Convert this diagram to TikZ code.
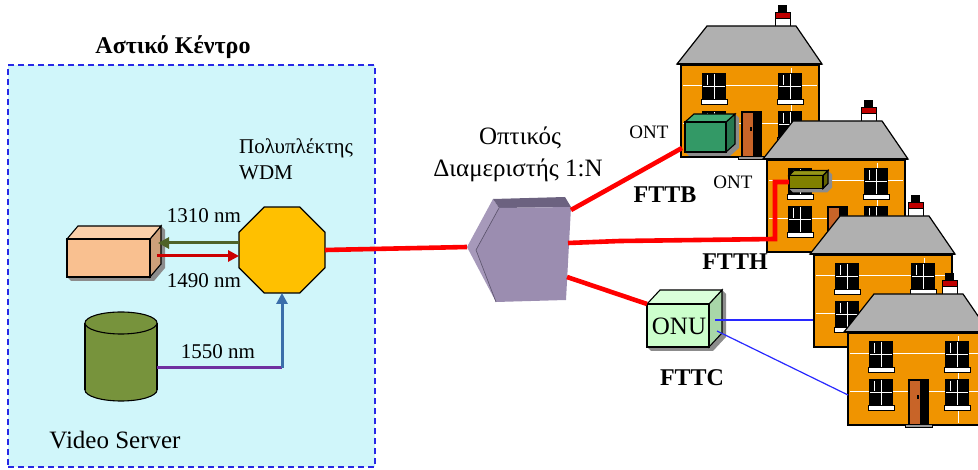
\documentclass[tikz,border=0pt]{standalone}
\usepackage{fontspec}
\setmainfont{Liberation Serif}
\usetikzlibrary{shapes.geometric,arrows.meta}

\definecolor{zonefill}{RGB}{208,246,250}
\definecolor{zoneline}{RGB}{40,40,230}
\definecolor{peach}{RGB}{249,192,144}
\definecolor{peachtop}{RGB}{250,208,170}
\definecolor{peachside}{RGB}{205,160,122}
\definecolor{wdmgold}{RGB}{255,192,0}
\definecolor{cylgreen}{RGB}{119,147,60}
\definecolor{olivearrow}{RGB}{79,98,40}
\definecolor{redarrow}{RGB}{204,0,0}
\definecolor{purpline}{RGB}{112,48,160}
\definecolor{steel}{RGB}{58,110,170}
\definecolor{fiberred}{RGB}{255,0,0}
\definecolor{splfront}{RGB}{155,141,176}
\definecolor{splleft}{RGB}{166,153,186}
\definecolor{spltop}{RGB}{108,98,128}
\definecolor{ontgreen}{RGB}{51,153,102}
\definecolor{ontgreentop}{RGB}{66,172,118}
\definecolor{ontgreenside}{RGB}{40,120,80}
\definecolor{ontolive}{RGB}{128,128,0}
\definecolor{ontolivetop}{RGB}{150,150,24}
\definecolor{ontoliveside}{RGB}{100,100,0}
\definecolor{onufront}{RGB}{204,255,204}
\definecolor{onutop}{RGB}{218,255,218}
\definecolor{onuside}{RGB}{168,214,168}
\definecolor{copper}{RGB}{40,40,255}
\definecolor{brick}{RGB}{240,148,0}
\definecolor{roofgrey}{RGB}{176,176,176}
\definecolor{chimred}{RGB}{192,0,0}
\definecolor{doorbrown}{RGB}{200,100,40}

\tikzset{
  lbl/.style={font=\fontsize{21}{25}\selectfont, inner sep=0pt},
  biglbl/.style={font=\fontsize{25}{29}\selectfont, inner sep=0pt},
  boldlbl/.style={font=\bfseries\fontsize{24}{28}\selectfont, inner sep=0pt},
  frontface/.style={inner sep=0pt, outer sep=0pt},
  cubeshadow/.style={fill=black!45},
  edge/.style={draw=black, line width=1.1pt},
  fiber/.style={draw=fiberred, line width=4.6pt},
  wave/.style={line width=3pt, -{Triangle[length=11pt,width=11pt]}},
  copperline/.style={draw=copper, line width=1.2pt},
}

% shadow, side, top and front of a box whose front face is the node #1
\newcommand\cubefaces[6]{%
  \fill[cubeshadow] ([shift={(4,4)}]#1.south west) -- ([shift={(4,4)}]#1.south east)
     -- ([shift={(#2+4,4-#3)}]#1.south east) -- ([shift={(#2+4,4-#3)}]#1.north east)
     -- ([shift={(#2,-#3)}]#1.north east) -- (#1.south west) -- cycle;
  \filldraw[edge, fill=#6] (#1.south east) -- (#1.north east)
     -- ([shift={(#2,-#3)}]#1.north east) -- ([shift={(#2,-#3)}]#1.south east) -- cycle;
  \filldraw[edge, fill=#5] (#1.north west) -- ([shift={(#2,-#3)}]#1.north west)
     -- ([shift={(#2,-#3)}]#1.north east) -- (#1.north east) -- cycle;
  \filldraw[edge, fill=#4] (#1.south west) rectangle (#1.north east);
}

% a window with white bars and a sill
\newcommand\hwin[2]{%
  \fill[black] (#1,#2) rectangle ++(24,27);
  \draw[white, line width=0.9pt] (#1+12,#2+1) -- ++(0,25) (#1+1,#2+13) -- ++(22,0)
     (#1+5,#2+2) -- ++(0,10);
  \filldraw[fill=white, draw=black, line width=0.5pt] (#1-1,#2+26) rectangle ++(26,5);
}

% a terraced house; the argument is the top left corner of its front wall
\newcommand\house[1]{%
  \begin{scope}[shift={#1}]
    \fill[black] (97,-62) rectangle (106,-54);
    \filldraw[fill=chimred, draw=black, line width=0.8pt] (94,-55) rectangle (109,-49);
    \filldraw[fill=white, draw=black, line width=0.8pt] (94,-49) rectangle (109,-36);
    \filldraw[fill=roofgrey, draw=black, line width=1.2pt]
       (-4,-3) -- (26,-41) -- (115,-41) -- (141,-3) -- cycle;
    \filldraw[fill=brick, draw=black, line width=1.2pt] (0,-2) rectangle (138,90);
    \draw[line width=2.4pt] (-4,-3) -- (141,-3);
    \draw[white, line width=0.8pt] (2,18) -- (136,18) (2,56) -- (136,56) (110,1) -- (110,88);
    \hwin{21}{6}\hwin{97}{6}\hwin{21}{44}\hwin{97}{44}
    \fill[black] (60,44) rectangle (81,90);
    \fill[doorbrown] (62,46) rectangle (72,90);
    \fill[black] (69,60) rectangle (70.5,64);
    \filldraw[fill=black!40, draw=black, line width=0.5pt] (57,89) rectangle (84,92.5);
  \end{scope}
}

\begin{document}
\begin{tikzpicture}[x=1pt, y=-1pt]
\useasboundingbox (0,0) rectangle (978,470);
\clip (0,0) rectangle (978,470);

% central office area
\node[draw=zoneline, fill=zonefill, dashed, dash pattern=on 6pt off 4pt,
      line width=1.3pt, minimum width=367pt, minimum height=402pt, inner sep=0pt]
      (zone) at (191.5,266) {};
\node[boldlbl] (zonetitle) at (173,47) {Αστικό Κέντρο};

% OLT box
\path node[frontface, minimum width=83pt, minimum height=38pt] (olt) at (108.5,258) {};
\cubefaces{olt}{11}{13}{peach}{peachtop}{peachside}

% WDM multiplexer
\node[regular polygon, regular polygon sides=8, minimum size=93pt, inner sep=0pt,
      outer sep=0pt, fill=wdmgold, draw=black, line width=1.2pt] (oct) at (282,250) {};
\node[lbl, anchor=west] (wdmname) at (239,148) {Πολυπλέκτης};
\node[lbl, anchor=west] (wdmtype) at (239,173) {WDM};

\draw[wave, olivearrow] ([yshift=7pt]oct.west) -- ([xshift=8pt,yshift=15pt]olt.east);
\draw[wave, redarrow] ([xshift=7pt,yshift=2pt]olt.east) -- ([yshift=-6pt]oct.west);
\node[lbl] (l1310) at (204,216) {1310 nm};
\node[lbl] (l1490) at (204,281) {1490 nm};

% video server
\coordinate (vs) at (121,356);
\filldraw[edge, fill=cylgreen] (121,390) ellipse [x radius=36, y radius=11];
\fill[cylgreen] (85,323) rectangle (157,390);
\draw[edge] (85,323) -- (85,390) (157,323) -- (157,390);
\filldraw[edge, fill=cylgreen] (121,323) ellipse [x radius=36, y radius=11];
\node[biglbl] (vslabel) at (115,440) {Video Server};

\coordinate (vsport) at (157,368);
\coordinate (vsbend) at (oct.south |- vsport);
\draw[purpline, line width=3pt] (vsport) -- (vsbend);
\draw[wave, steel] (vsbend) -- (oct.south);
\node[lbl] (l1550) at (218,352) {1550 nm};

% optical splitter
\coordinate (spA) at (467,247);
\coordinate (spB) at (493,199);
\coordinate (spC) at (565,197);
\coordinate (spD) at (571,207);
\coordinate (spE) at (499,208);
\coordinate (spF) at (476,250);
\coordinate (spG) at (496,302);
\coordinate (spH) at (566,300);
\fill[splleft] (spA) -- (spB) -- (spE) -- (spF) -- (spG) -- cycle;
\fill[spltop] (spB) -- (spC) -- (spD) -- (spE) -- cycle;
\fill[splfront] (spE) -- (spD) -- (spH) -- (spG) -- (spF) -- cycle;
\draw[spltop!80!black, line width=0.6pt] (spE) -- (spF) -- (spG);
\coordinate (sp1) at (571,210);
\coordinate (sp2) at (568,243);
\coordinate (sp3) at (567,277);
\node[lbl, font=\fontsize{25}{29}\selectfont] (spname) at (520,138) {Οπτικός};
\node[lbl, font=\fontsize{25}{29}\selectfont] (sptype) at (518,170) {Διαμεριστής 1:N};

\draw[fiber] (oct.east) -- (spA);

% buildings
\house{(681,67)}
\house{(767,162)}
\house{(814,257)}
\house{(848,335)}

% ONT units
\path node[frontface, minimum width=41pt, minimum height=30pt] (ont1) at (705.5,137) {};
\cubefaces{ont1}{9}{8}{ontgreen}{ontgreentop}{ontgreenside}
\path node[frontface, minimum width=34pt, minimum height=13pt] (ont2) at (806,182) {};
\cubefaces{ont2}{5}{5}{ontolive}{ontolivetop}{ontoliveside}
\node[lbl, font=\fontsize{19}{22}\selectfont] (ont1label) at (649,132) {ONT};
\node[lbl, font=\fontsize{19}{22}\selectfont] (ont2label) at (733,182) {ONT};

% ONU cabinet
\path node[frontface, minimum width=62pt, minimum height=43pt] (onu) at (678,325.5) {};
\cubefaces{onu}{13}{14}{onufront}{onutop}{onuside}
\node[lbl, font=\fontsize{25}{28}\selectfont] (onulabel) at (679,326) {ONU};

% fibre drops
\draw[fiber] (sp1) -- ([xshift=-3pt,yshift=4pt]ont1.south west);
\draw[fiber] (sp2) -- (620,241) -- (775,239) |- (ont2.west);
\draw[fiber] (sp3) -- (onu.north west);

% copper drops
\coordinate (h3port) at (813,320);
\coordinate (h4port) at (848,395);
\draw[copperline] ([xshift=6pt,yshift=5.5pt]onu.east) -- (h3port);
\draw[copperline] ([xshift=8pt,yshift=-5.5pt]onu.east) -- (h4port);

% access type labels
\node[boldlbl] (fttb) at (665,195) {FTTB};
\node[boldlbl] (ftth) at (735,262) {FTTH};
\node[boldlbl] (fttc) at (692,378) {FTTC};
\end{tikzpicture}
\end{document}
